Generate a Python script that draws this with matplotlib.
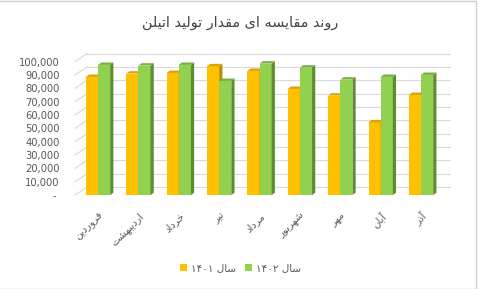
import numpy as np
import matplotlib
matplotlib.use("Agg")
import matplotlib.pyplot as plt
from matplotlib.patches import Polygon, Rectangle
from matplotlib.ticker import FuncFormatter

# داده‌ها
months = ["فروردین", "اردیبهشت", "خرداد", "تیر", "مرداد", "شهریور", "مهر", "آبان", "آذر"]
prod_1401 = [88500, 91000, 91500, 96500, 93000, 79500, 74500, 54500, 75000]
prod_1402 = [97500, 97000, 97500, 85500, 98500, 95500, 86500, 88500, 90000]
series_labels = ["سال", "سال"]
series_years = ["۱۴۰۱", "۱۴۰۲"]
title_text = "روند مقایسه ای مقدار تولید اتیلن"

YELLOW, YELLOW_SIDE, YELLOW_TOP = "#FFC000", "#B88A00", "#D9A300"
GREEN, GREEN_SIDE, GREEN_TOP = "#92D050", "#5E8C30", "#78B040"
GRID = "#D9D9D9"
TEXT = "#595959"

# حروف فارسی -> فرم‌های نمایشی (ایزوله، پایانی، آغازی، میانی)
FORMS = {
    "ا": ("\uFE8D", "\uFE8E", None, None),
    "آ": ("\uFE81", "\uFE82", None, None),
    "د": ("\uFEA9", "\uFEAA", None, None),
    "ذ": ("\uFEAB", "\uFEAC", None, None),
    "ر": ("\uFEAD", "\uFEAE", None, None),
    "و": ("\uFEED", "\uFEEE", None, None),
    "ب": ("\uFE8F", "\uFE90", "\uFE91", "\uFE92"),
    "ت": ("\uFE95", "\uFE96", "\uFE97", "\uFE98"),
    "خ": ("\uFEA5", "\uFEA6", "\uFEA7", "\uFEA8"),
    "س": ("\uFEB1", "\uFEB2", "\uFEB3", "\uFEB4"),
    "ش": ("\uFEB5", "\uFEB6", "\uFEB7", "\uFEB8"),
    "ف": ("\uFED1", "\uFED2", "\uFED3", "\uFED4"),
    "ق": ("\uFED5", "\uFED6", "\uFED7", "\uFED8"),
    "ل": ("\uFEDD", "\uFEDE", "\uFEDF", "\uFEE0"),
    "م": ("\uFEE1", "\uFEE2", "\uFEE3", "\uFEE4"),
    "ن": ("\uFEE5", "\uFEE6", "\uFEE7", "\uFEE8"),
    "ه": ("\uFEE9", "\uFEEA", "\uFEEB", "\uFEEC"),
    "ی": ("\uFBFC", "\uFBFD", "\uFBFE", "\uFBFF"),
}


def shape(text):
    # شکل‌دهی ساده و برعکس کردن برای نمایش راست به چپ
    out = []
    for i, ch in enumerate(text):
        f = FORMS.get(ch)
        if f is None:
            out.append(ch)
            continue
        prev = text[i - 1] if i > 0 else ""
        nxt = text[i + 1] if i + 1 < len(text) else ""
        joins_prev = prev in FORMS and FORMS[prev][2] is not None
        joins_next = f[2] is not None and nxt in FORMS
        if joins_prev and joins_next:
            out.append(f[3])
        elif joins_prev:
            out.append(f[1])
        elif joins_next:
            out.append(f[2])
        else:
            out.append(f[0])
    return "".join(reversed(out))


plt.rcParams["font.family"] = ["DejaVu Sans"]

fig = plt.figure(figsize=(4.81, 2.89), dpi=100)
fig.patches.append(Rectangle((-0.01, 0.0), 1.0, 0.995, transform=fig.transFigure,
                             fill=False, edgecolor="#D0D0D0", linewidth=1.0))
ax = fig.add_axes([0.156, 0.325, 0.779, 0.462])

x = np.arange(len(months))
w = 0.3
ax.set_xlim(-0.57, 8.71)
ax.set_ylim(0, 100000)

# دیوار پشتی و خطوط شبکه
wall_dx, wall_dy = 0.3, 6000
for t in np.arange(0, 100001, 10000):
    ax.plot([-0.57, -0.57 + wall_dx], [t, t + wall_dy], color=GRID, lw=0.8,
            clip_on=False, zorder=0)
    ax.plot([-0.57 + wall_dx, 8.71], [t + wall_dy, t + wall_dy], color=GRID,
            lw=0.8, clip_on=False, zorder=0)

dx, dy = 0.08, 1800


def draw_bars(xs, vals, face, side, top, z):
    bars = ax.bar(xs, vals, width=w, color=face, zorder=z, linewidth=0)
    for b in bars:
        x0, x1, h = b.get_x(), b.get_x() + b.get_width(), b.get_height()
        ax.add_patch(Polygon([(x1, 0), (x1 + dx, dy), (x1 + dx, h + dy), (x1, h)],
                             closed=True, facecolor=side, edgecolor="none",
                             zorder=z, clip_on=False))
        ax.add_patch(Polygon([(x0, h), (x0 + dx, h + dy), (x1 + dx, h + dy), (x1, h)],
                             closed=True, facecolor=top, edgecolor="none",
                             zorder=z, clip_on=False))
    return bars


b1 = draw_bars(x - w / 2, prod_1401, YELLOW, YELLOW_SIDE, YELLOW_TOP, 2)
b2 = draw_bars(x + w / 2, prod_1402, GREEN, GREEN_SIDE, GREEN_TOP, 3)

ax.set_yticks(np.arange(0, 100001, 10000))
ax.yaxis.set_major_formatter(FuncFormatter(lambda v, p: "- " if v == 0 else f"{v:,.0f}"))
ax.tick_params(axis="y", length=0, labelsize=7.2, labelcolor=TEXT, pad=11)
ax.set_xticks(x)
ax.set_xticklabels([shape(m) for m in months], rotation=45, ha="right",
                   rotation_mode="anchor", fontsize=7.3, color=TEXT)
ax.tick_params(axis="x", length=0, pad=11)
for s in ax.spines.values():
    s.set_visible(False)

fig.text(0.5, 0.922, shape(title_text), ha="center", va="center",
         fontsize=10.4, color="#404040")

labels = [y + " " + shape(s) for s, y in zip(series_labels, series_years)]
fig.legend([b1, b2], labels, loc="center", bbox_to_anchor=(0.5, 0.073), ncol=2,
           frameon=False, fontsize=7.5, labelcolor=TEXT, handlelength=0.7,
           handleheight=0.7, handletextpad=0.4, columnspacing=0.8)

fig.savefig("out.png", dpi=100)
